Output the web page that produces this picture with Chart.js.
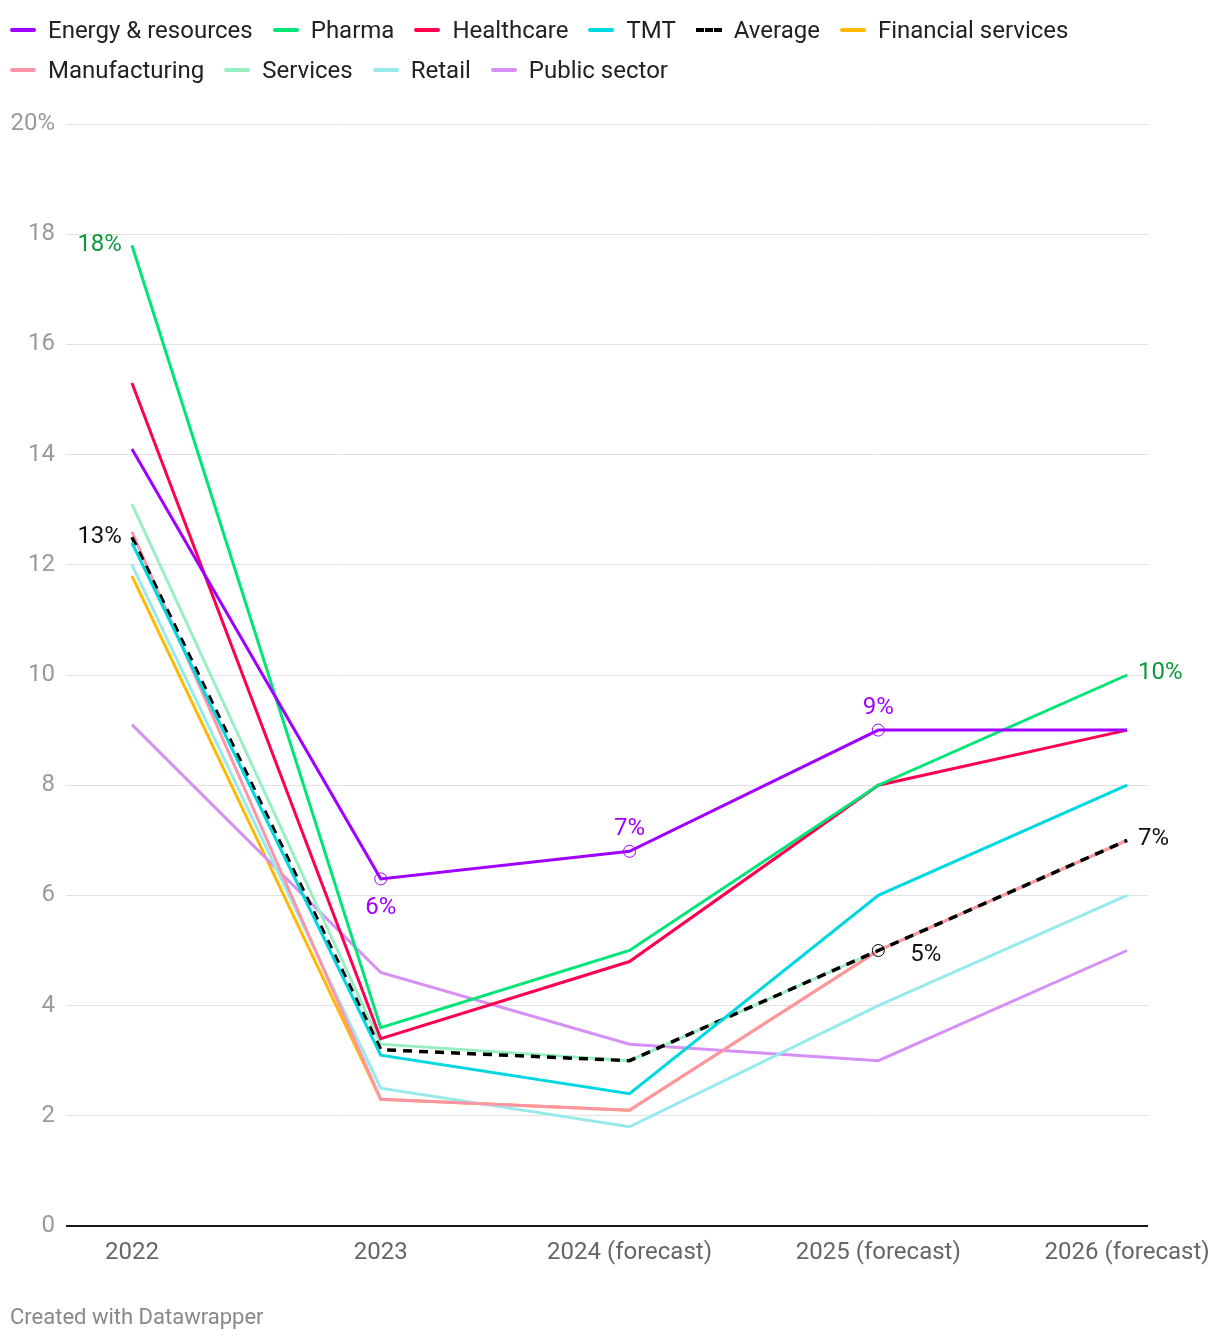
<!DOCTYPE html>
<html>
<head>
<meta charset="utf-8">
<script src="https://cdn.jsdelivr.net/npm/chart.js@4.4.1/dist/chart.umd.min.js"></script>
<style>
  html, body { margin: 0; padding: 0; background: #fff; }
  body { width: 1220px; height: 1342px; position: relative; font-family: Roboto, sans-serif; overflow: hidden; }
  #chartBox { position: absolute; left: 0; top: 0; width: 1220px; height: 1342px; }
  .legend { position: absolute; left: 10px; top: 14px; font-size: 24px; color: #222; }
  .row { display: flex; align-items: center; height: 32px; margin-bottom: 8px; white-space: nowrap; }
  .item { display: flex; align-items: center; margin-right: 20px; }
  .sym { width: 26px; height: 0; border-top: 4px solid; border-radius: 2px; margin-right: 12px; }
  .sym.dash { border-top: 4px dashed #000; border-radius: 0; }
  .footer { position: absolute; left: 10px; top: 1304px; font-size: 22px; color: #888; }
</style>
</head>
<body>
<div id="chartBox"><canvas id="trendChart" width="1220" height="1342"></canvas></div>
<div class="legend" id="legend"></div>
<div class="footer">Created with Datawrapper</div>
<script>
const categories = ['2022', '2023', '2024 (forecast)', '2025 (forecast)', '2026 (forecast)'];
const yTicks = [0, 2, 4, 6, 8, 10, 12, 14, 16, 18, 20];

const energy        = [14.1, 6.3, 6.8, 9.0, 9.0];
const pharma        = [17.8, 3.6, 5.0, 8.0, 10.0];
const healthcare    = [15.3, 3.4, 4.8, 8.0, 9.0];
const tmt           = [12.4, 3.1, 2.4, 6.0, 8.0];
const average       = [12.5, 3.2, 3.0, 5.0, 7.0];
const financial     = [11.8, 2.3, 2.1, 5.0, 7.0];
const manufacturing = [12.6, 2.3, 2.1, 5.0, 7.0];
const services      = [13.1, 3.3, 3.0, 5.0, 7.0];
const retail        = [12.0, 2.5, 1.8, 4.0, 6.0];
const publicSector  = [9.1, 4.6, 3.3, 3.0, 5.0];

// order maior = desenhado antes (fica por baixo)
const series = [
    { label: 'Energy & resources', data: energy, color: '#a000ff', radius: [0, 6, 6, 6, 0] },
    { label: 'Pharma', data: pharma, color: '#00e676' },
    { label: 'Healthcare', data: healthcare, color: '#ff0050' },
    { label: 'TMT', data: tmt, color: '#00d8e0' },
    { label: 'Average', data: average, color: '#000000', dash: true, radius: [0, 0, 0, 6, 0] },
    { label: 'Financial services', data: financial, color: '#ffb900', order: 1 },
    { label: 'Manufacturing', data: manufacturing, color: '#ff94a8' },
    { label: 'Services', data: services, color: '#98efc2' },
    { label: 'Retail', data: retail, color: '#98eaea' },
    { label: 'Public sector', data: publicSector, color: '#d690f5' }
];

// legenda em HTML, duas linhas como no original
const legend = document.getElementById('legend');
[series.slice(0, 6), series.slice(6)].forEach(rowItems => {
    const row = document.createElement('div');
    row.className = 'row';
    rowItems.forEach(s => {
        const item = document.createElement('div');
        item.className = 'item';
        item.innerHTML = `<span class="sym${s.dash ? ' dash' : ''}" style="border-top-color:${s.color}"></span>${s.label}`;
        row.appendChild(item);
    });
    legend.appendChild(row);
});

// rótulos de valor
const valueLabels = [
    { ds: 0, i: 1, text: '6%', color: '#a000ff', dx: 0, dy: 29, align: 'center' },
    { ds: 0, i: 2, text: '7%', color: '#a000ff', dx: 0, dy: -22, align: 'center' },
    { ds: 0, i: 3, text: '9%', color: '#a000ff', dx: 0, dy: -22, align: 'center' },
    { ds: 1, i: 0, text: '18%', color: '#0a9a3c', dx: -10, dy: 0, align: 'right' },
    { ds: 1, i: 4, text: '10%', color: '#0a9a3c', dx: 11, dy: -2, align: 'left' },
    { ds: 4, i: 0, text: '13%', color: '#111', dx: -10, dy: 0, align: 'right' },
    { ds: 4, i: 3, text: '5%', color: '#111', dx: 32, dy: 4, align: 'left' },
    { ds: 4, i: 4, text: '7%', color: '#111', dx: 11, dy: -1, align: 'left' }
];

const labelPlugin = {
    id: 'valueLabels',
    afterDatasetsDraw(chart) {
        const c = chart.ctx;
        c.save();
        c.font = '24px Roboto';
        c.textBaseline = 'middle';
        valueLabels.forEach(l => {
            const pt = chart.getDatasetMeta(l.ds).data[l.i];
            c.fillStyle = l.color;
            c.textAlign = l.align;
            c.fillText(l.text, pt.x + l.dx, pt.y + l.dy);
        });
        c.restore();
    }
};

const ctx = document.getElementById('trendChart').getContext('2d');
new Chart(ctx, {
    type: 'line',
    data: {
        datasets: series.map(s => ({
            label: s.label,
            data: s.data.map((v, i) => ({ x: i, y: v })),
            order: s.order || 0,
            borderColor: s.color,
            borderWidth: s.dash ? 3.5 : 3,
            borderDash: s.dash ? [9, 7] : [],
            pointRadius: s.radius || 0,
            pointBorderColor: s.color,
            pointBackgroundColor: 'transparent',
            pointBorderWidth: 1,
            tension: 0,
            fill: false
        }))
    },
    options: {
        responsive: false,
        animation: false,
        events: [],
        layout: { padding: { top: 124, right: 72, bottom: 0, left: 0 } },
        plugins: {
            legend: { display: false },
            tooltip: { enabled: false }
        },
        scales: {
            x: {
                type: 'linear',
                min: -0.265,
                max: 4.084,
                afterBuildTicks: scale => { scale.ticks = categories.map((c, i) => ({ value: i })); },
                afterFit: scale => {
                    scale.height = 116;
                    scale.paddingLeft = 0;
                    scale.paddingRight = 0;
                },
                grid: { display: false, drawTicks: false },
                border: { display: false },
                ticks: {
                    padding: 13,
                    color: '#666',
                    font: { family: 'Roboto', size: 24 },
                    maxRotation: 0,
                    autoSkip: false,
                    callback: v => categories[v]
                }
            },
            y: {
                min: 0,
                max: 20,
                afterBuildTicks: scale => { scale.ticks = yTicks.map(v => ({ value: v })); },
                afterFit: scale => { scale.width = 66; },
                grid: {
                    drawTicks: false,
                    color: c => c.tick.value === 0 ? '#1a1a1a' : '#e3e3e3',
                    lineWidth: c => c.tick.value === 0 ? 2 : 1
                },
                border: { display: false },
                ticks: {
                    padding: 11,
                    color: '#9a9a9a',
                    font: { family: 'Roboto', size: 24 },
                    callback: v => v === 20 ? '20%' : String(v)
                }
            }
        }
    },
    plugins: [labelPlugin]
});
</script>
</body>
</html>
